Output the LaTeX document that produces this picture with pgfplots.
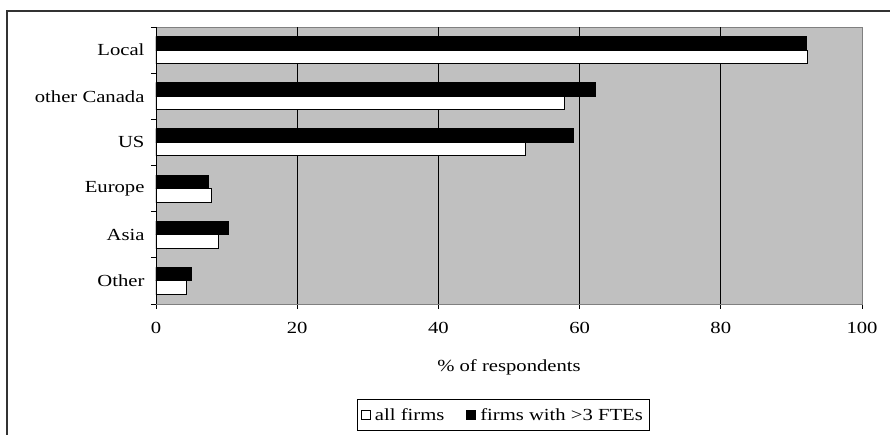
\documentclass[border=0pt]{standalone}
\usepackage{fontspec}
\setmainfont{Liberation Serif}[FakeStretch=1.22]
\usepackage{pgfplots}
\pgfplotsset{compat=1.18}
\definecolor{plotgray}{RGB}{192,192,192}
\definecolor{edgegray}{RGB}{128,128,128}

\begin{document}
\begin{tikzpicture}[x=1bp,y=1bp]
\begin{axis}[
  at={(0,0)}, anchor=south west,
  scale only axis, width=706bp, height=277bp,
  xmin=0, xmax=100, ymin=-0.5, ymax=5.5,
  xbar, bar width=13.5bp,
  font=\fontsize{17}{20}\selectfont,
  /pgf/number format/assume math mode=true,
  axis background/.style={fill=plotgray},
  axis line style={edgegray, line width=0.8bp},
  tick align=outside, major tick length=5bp, tick pos=left,
  tick style={black, line width=0.8bp},
  xtick={0,20,...,100},
  xticklabel style={yshift=-10bp},
  extra x ticks={20,40,60,80},
  extra x tick labels={},
  extra x tick style={grid=major, major tick length=0pt},
  grid style={black, line width=0.8bp},
  ytick={-0.5,0.5,...,5.5}, yticklabels={},
  extra y ticks={0,1,2,3,4,5},
  extra y tick labels={Other,Asia,Europe,US,other Canada,Local},
  extra y tick style={major tick length=0pt, yticklabel style={xshift=-8bp}},
  xlabel={\% of respondents},
  xlabel style={at={(axis description cs:0.5,-0.227)}, anchor=center},
  legend columns=2,
  legend style={at={(axis description cs:0.4915,-0.343)}, anchor=north,
    draw=black, line width=0.8bp, font=\fontsize{17}{20}\selectfont,
    inner xsep=4bp, inner ysep=7bp,
    nodes={inner sep=2bp},
    /tikz/every odd column/.append style={column sep=2bp},
    /tikz/every even column/.append style={column sep=20bp}},
]
% all firms
\addplot[fill=white, draw=black, line width=1bp, bar shift=-6.75bp,
  legend image code/.code={\draw[fill=white,draw=black,line width=0.9bp] (0bp,-4.5bp) rectangle (9bp,4.5bp);}]
  coordinates {(4.3,0) (8.8,1) (7.8,2) (52.3,3) (57.9,4) (92.3,5)};
\addlegendentry{all firms}
% firms with more than 3 FTEs
\addplot[fill=black, draw=black, line width=1bp, bar shift=6.75bp,
  legend image code/.code={\draw[fill=black,draw=black,line width=0.9bp] (0bp,-4.5bp) rectangle (9bp,4.5bp);}]
  coordinates {(5.0,0) (10.2,1) (7.5,2) (59.1,3) (62.2,4) (92.1,5)};
\addlegendentry{firms with >3 FTEs}
\draw[black, line width=0.8bp] (rel axis cs:0,1) -- (rel axis cs:0,0) -- (rel axis cs:1,0);
\end{axis}
% outer chart frame
\draw[black!80, line width=1.5bp] (-149,-140) -- (-149,293) -- (740,293);
\pgfresetboundingbox
\useasboundingbox (-156,-131) rectangle (734,304);
\end{tikzpicture}
\end{document}
